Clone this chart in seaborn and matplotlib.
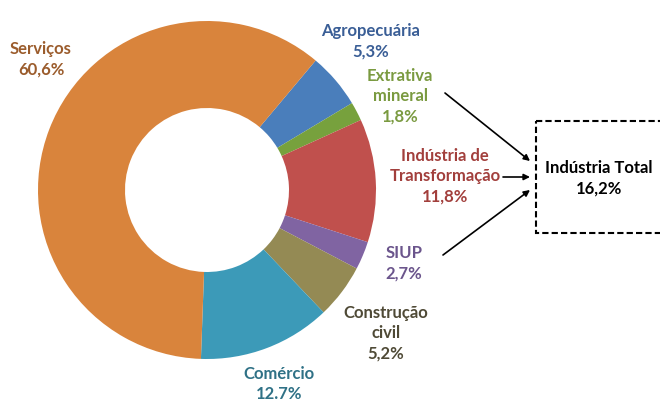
import matplotlib
matplotlib.use("Agg")
import matplotlib.pyplot as plt
import seaborn as sns
from matplotlib.patches import Rectangle

# shares of value added by sector (%), clockwise from Agropecuária
sectors = ["Agropecuária", "Extrativa\nmineral", "Indústria de\nTransformação",
           "SIUP", "Construção\ncivil", "Comércio", "Serviços"]
shares = [5.3, 1.8, 11.8, 2.7, 5.2, 12.7, 60.6]
share_labels = ["5,3%", "1,8%", "11,8%", "2,7%", "5,2%", "12.7%", "60,6%"]
industry_total = "16,2%"

slice_colors = ["#4A7EBB", "#77A13D", "#C0504D", "#8064A2", "#948A54", "#3C9AB8", "#D9843C"]
text_colors = ["#3A5E96", "#7A9A40", "#A23F3C", "#6B558C", "#4F4A36", "#2F7186", "#9B5C2C"]

sns.set_theme(style="white")
plt.rcParams['font.family'] = ['Lato', 'DejaVu Sans']

fig = plt.figure(figsize=(6.6, 4.01), dpi=100)
ax = fig.add_axes([0, 0, 1, 1])

# pixel-like coordinates, y pointing down
ax.pie(shares, colors=slice_colors, center=(207, 190), radius=169,
       startangle=-50, counterclock=True, frame=True,
       wedgeprops=dict(width=87, linewidth=0))
ax.set_xlim(0, 660)
ax.set_ylim(401, 0)
ax.set_aspect('equal')
ax.axis('off')

label_pos = [(371, 41), (400, 96), (445, 176), (404, 263), (386, 333), (279, 384), (41, 59)]
for name, lab, col, (x, y) in zip(sectors, share_labels, text_colors, label_pos):
    ax.text(x, y, name + "\n" + lab, ha="center", va="center", color=col,
            fontsize=12, fontweight="bold", linespacing=1.33)

# Indústria Total box
ax.add_patch(Rectangle((536, 121), 130, 112, fill=False, edgecolor="black",
                       linestyle=(0, (3, 1.5)), linewidth=1.5, clip_on=False))
ax.text(599, 178, "Indústria Total\n" + industry_total, ha="center", va="center",
        color="black", fontsize=12, fontweight="bold", linespacing=1.33)

arrow = dict(arrowstyle="-|>", color="black", lw=1.2, mutation_scale=9,
             shrinkA=0, shrinkB=0)
ax.annotate("", xy=(530, 161), xytext=(445, 93), arrowprops=arrow)
ax.annotate("", xy=(530, 177), xytext=(503, 177), arrowprops=arrow)
ax.annotate("", xy=(530, 190), xytext=(443, 255), arrowprops=arrow)

fig.savefig("out.png", dpi=100)
